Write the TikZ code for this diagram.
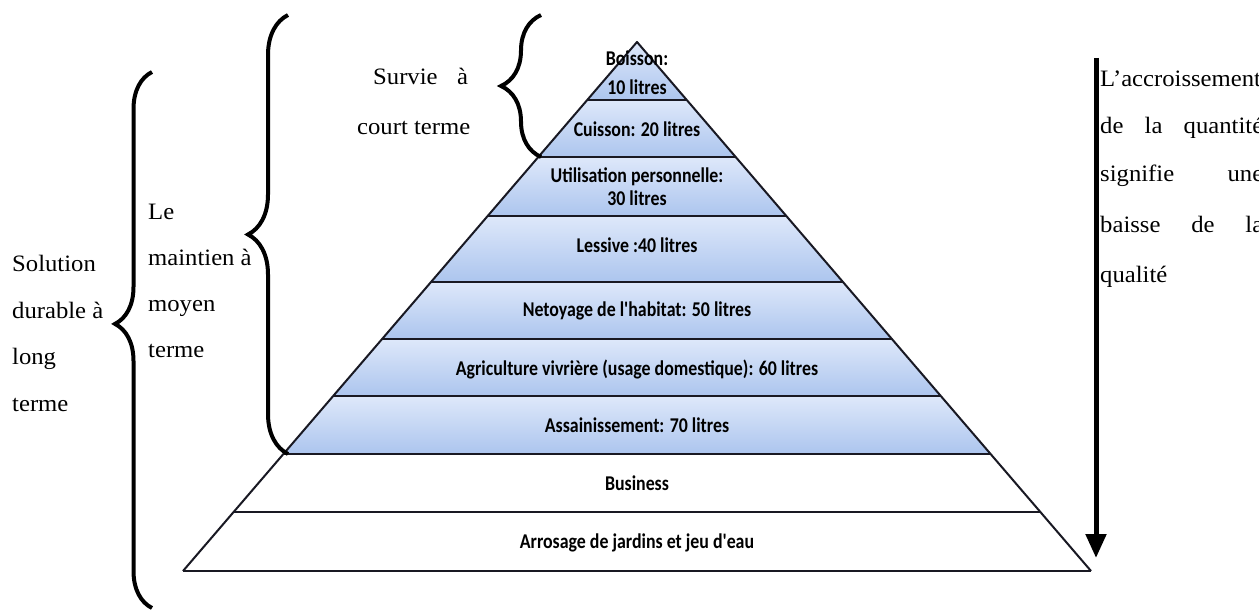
\documentclass[tikz,border=0pt]{standalone}
\usepackage{fontspec}
\setmainfont[FakeStretch=1.05]{Liberation Serif}
\newfontfamily\levelfont[FakeStretch=0.85]{Carlito}
\usetikzlibrary{decorations.pathreplacing,arrows.meta}
\definecolor{bandtop}{RGB}{222,232,250}
\definecolor{bandbot}{RGB}{172,197,238}
\definecolor{edgegray}{RGB}{25,25,35}

\begin{document}
\begin{tikzpicture}[x=1pt,y=-1pt,
    level/.style={font=\levelfont\bfseries\fontsize{21}{23}\selectfont, anchor=base, inner sep=0pt},
    side/.style={font=\fontsize{23.5}{28}\selectfont, anchor=base west, inner sep=0pt},
    curly/.style={decorate, decoration={brace, amplitude=#1}, line width=4pt},
  ]
    \useasboundingbox (0,0) rectangle (1259,612);
    \clip (0,0) rectangle (1259,612);
    % bands of the pyramid, apex at (637,42)
    \foreach \ya/\yb/\ct/\cb in {42/100/bandtop/bandbot, 100/157/bandtop/bandbot,
        157/216/bandtop/bandbot, 216/282/bandtop/bandbot, 282/339/bandtop/bandbot,
        339/396/bandtop/bandbot, 396/454/bandtop/bandbot, 454/512/white/white, 512/571/white/white} {
      \pgfmathsetmacro\wa{0.8582*(\ya-42)}
      \pgfmathsetmacro\wb{0.8582*(\yb-42)}
      \shade[top color=\ct, bottom color=\cb] (637-\wa,\ya) -- (637+\wa,\ya) -- (637+\wb,\yb) -- (637-\wb,\yb) -- cycle;
    }
    \foreach \yb in {100,157,216,282,339,396,454,512,571} {
      \pgfmathsetmacro\wb{0.8582*(\yb-42)}
      \draw[edgegray, line width=2.5pt] (637-\wb,\yb) -- (637+\wb,\yb);
    }
    \draw[edgegray, line width=2pt, line join=round] (183,571) -- (637,42) -- (1091,571);

    % labels of the levels
    \node[level] (boisson) at (637,66) {Boisson:};
    \node[level] (dix) at (637,95) {10 litres};
    \node[level] (cuisson) at (637,137) {Cuisson: 20 litres};
    \node[level] (perso) at (637,183) {Utilisation personnelle:};
    \node[level] (trente) at (637,206) {30 litres};
    \node[level] (lessive) at (637,253) {Lessive :40 litres};
    \node[level] (habitat) at (637,317) {Netoyage de l'habitat: 50 litres};
    \node[level] (vivriere) at (637,376) {Agriculture vivrière (usage domestique): 60 litres};
    \node[level] (assain) at (637,432) {Assainissement: 70 litres};
    \node[level] (business) at (637,490) {Business};
    \node[level] (arrosage) at (637,548) {Arrosage de jardins et jeu d'eau};

    % braces and their texts
    \coordinate (courtbas) at (541,157);
    \coordinate (courthaut) at (541,15);
    \coordinate (moyenbas) at (288,454);
    \coordinate (moyenhaut) at (288,15);
    \coordinate (longbas) at (152,608);
    \coordinate (longhaut) at (152,72);
    \draw[curly=40pt] (courtbas) -- (courthaut);
    \draw[curly=40pt] (moyenbas) -- (moyenhaut);
    \draw[curly=37pt, decoration={aspect=0.53}] (longbas) -- (longhaut);

    \node[side] (survie) at (373,85) {\makebox[95pt][s]{Survie à}};
    \node[side] (court) at (357,135) {court terme};
    \foreach \txt [count=\i] in {Le, maintien à, moyen, terme}
      \node[side] (moyen\i) at (148,{220+46*(\i-1)}) {\txt};
    \foreach \txt [count=\i] in {Solution, durable à, long, terme}
      \node[side] (long\i) at (12,{272+46.5*(\i-1)}) {\txt};

    % quantity versus quality
    \coordinate (fleche) at (1096,58);
    \coordinate (flechebas) at (1096,558);
    \draw[line width=5pt, -{Triangle[width=20pt,length=24pt]}] (fleche) -- (flechebas);
    \node[side] (accr) at (1100,87) {L'accroissement};
    \node[side] (quant) at (1100,134) {\makebox[163pt][s]{de la quantité}};
    \node[side] (signif) at (1100,182) {\makebox[163pt][s]{signifie une}};
    \node[side] (baisse) at (1100,233) {\makebox[163pt][s]{baisse de la}};
    \node[side] (qual) at (1100,283) {qualité};
\end{tikzpicture}
\end{document}
